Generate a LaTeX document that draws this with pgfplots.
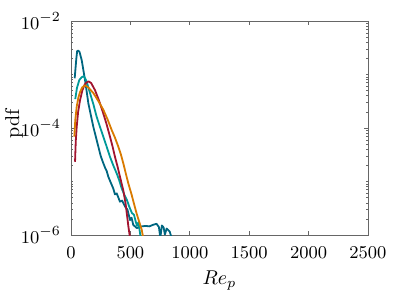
\documentclass[border=0pt]{standalone}
\usepackage{pgfplots}
\pgfplotsset{compat=1.18}
\definecolor{cDark}{RGB}{0,102,128}
\definecolor{cCyan}{RGB}{0,153,153}
\definecolor{cRed}{RGB}{162,20,47}
\definecolor{cOrange}{RGB}{217,122,0}
\begin{document}
\begin{tikzpicture}
\begin{axis}[
  at={(0,0)}, anchor=south west,
  scale only axis, width=148.5pt, height=107pt,
  xmin=0, xmax=2500, ymin=1e-6, ymax=1e-2,
  ymode=log,
  xtick={0,500,1000,1500,2000,2500},
  ytick={1e-6,1e-4,1e-2},
  minor ytick={2e-6,3e-6,4e-6,5e-6,6e-6,7e-6,8e-6,9e-6,1e-5,2e-5,3e-5,4e-5,5e-5,6e-5,7e-5,8e-5,9e-5,2e-4,3e-4,4e-4,5e-4,6e-4,7e-4,8e-4,9e-4,1e-3,2e-3,3e-3,4e-3,5e-3,6e-3,7e-3,8e-3,9e-3},
  scaled x ticks=false,
  x tick label style={/pgf/number format/.cd, fixed, set thousands separator={}, precision=0, /tikz/.cd, yshift=-2.5pt},
  y tick label style={xshift=-1.5pt},
  tick align=inside,
  major tick length=2pt, minor tick length=1.2pt,
  axis line style={draw=black!60, line width=0.4pt},
  every tick/.style={draw=black!60, line width=0.3pt},
  tick label style={font=\fontsize{9.5}{11}\selectfont},
  label style={font=\fontsize{10.5}{12}\selectfont},
  xlabel={$Re_p$},
  every axis x label/.style={at={(axis description cs:0.5,0)}, anchor=center, yshift=-23pt},
  ylabel={pdf},
  every axis y label/.style={at={(axis description cs:0,0.5)}, xshift=-28.5pt, yshift=2pt, rotate=90, anchor=center},
  clip=true,
  every axis plot/.append style={line width=0.9pt, line join=round},
]
\addplot[cDark] coordinates {
(31,8.5e-4) (45,2.0e-3) (52,2.75e-3) (62,2.79e-3) (72,2.63e-3) (90,1.86e-3)
(118,7.9e-4) (146,2.9e-4) (188,1.05e-4) (230,4.5e-5) (250,3.0e-5) (272,2.2e-5)
(290,1.74e-5) (300,1.58e-5) (314,1.23e-5) (335,9.5e-6) (356,7.4e-6) (370,5.75e-6)
(385,6.0e-6) (412,4.2e-6) (430,4.4e-6) (455,3.4e-6) (475,3.0e-6) (497,1.9e-6)
(510,2.1e-6) (524,1.55e-6) (553,1.35e-6) (570,1.38e-6) (595,1.45e-6) (630,1.48e-6)
(660,1.45e-6) (690,1.55e-6) (720,1.62e-6) (740,1.41e-6) (752,0.89e-6) (765,1.51e-6)
(780,1.38e-6) (790,1.02e-6) (805,1.32e-6) (830,1.17e-6) (850,0.85e-6)
};
\addplot[cCyan] coordinates {
(36,3.47e-4) (50,5.6e-4) (70,7.9e-4) (90,8.9e-4) (108,9.3e-4) (130,7.6e-4)
(160,4.5e-4) (188,2.8e-4) (216,1.62e-4) (244,1.05e-4) (272,6.9e-5) (300,4.5e-5)
(328,2.9e-5) (356,2.0e-5) (385,1.41e-5) (405,1.07e-5) (427,7.4e-6) (450,5.6e-6)
(471,4.5e-6) (490,3.4e-6) (513,2.57e-6) (530,2.4e-6) (545,1.78e-6) (556,1.48e-6)
(568,1.74e-6) (580,1.12e-6) (590,0.8e-6)
};
\addplot[cRed] coordinates {
(34,2.34e-5) (40,5.6e-5) (48,1.05e-4) (60,2.0e-4) (76,3.3e-4) (95,5.0e-4)
(115,6.5e-4) (135,7.2e-4) (150,7.4e-4) (170,6.9e-4) (202,5.1e-4) (235,3.3e-4)
(272,1.86e-4) (300,1.17e-4) (328,6.9e-5) (350,4.5e-5) (370,2.9e-5) (392,1.9e-5)
(412,1.23e-5) (440,6.9e-6) (460,3.8e-6) (483,1.45e-6) (500,7.9e-7)
};
\addplot[cOrange] coordinates {
(28,6.9e-5) (36,1.4e-4) (48,2.5e-4) (62,3.7e-4) (76,4.7e-4) (95,5.75e-4)
(118,6.3e-4) (150,5.6e-4) (188,4.5e-4) (230,3.2e-4) (272,2.2e-4) (310,1.41e-4)
(343,9.1e-5) (370,6.6e-5) (398,4.5e-5) (420,3.2e-5) (440,2.2e-5) (460,1.45e-5)
(482,9.3e-6) (511,5.6e-6) (535,3.5e-6) (553,2.5e-6) (575,1.74e-6) (595,1.26e-6)
(612,7.9e-7)
};
\end{axis}
\pgfresetboundingbox
\path[use as bounding box] (-35.5pt,-28pt) rectangle (168pt,117.5pt);
\end{tikzpicture}
\end{document}
